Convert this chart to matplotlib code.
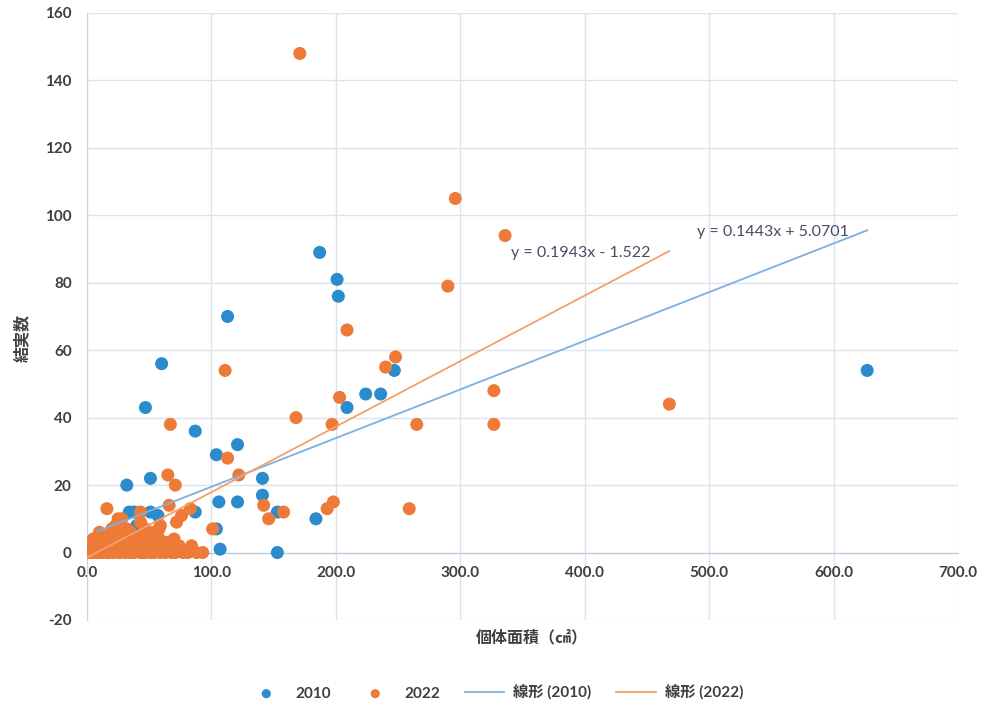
import matplotlib
matplotlib.use("Agg")
import matplotlib.pyplot as plt
import numpy as np

plt.rcParams['font.family'] = ['Lato', 'Noto Sans CJK JP', 'DejaVu Sans']

# ---- data ----
x2010 = [187, 201, 202, 113, 60, 627, 247, 47, 209, 224, 236, 87, 121, 104, 141, 141,
         51, 32, 106, 121, 153, 184, 104, 107, 153, 87,
         34, 38, 51, 57, 35, 63, 23, 8, 45, 60, 30, 50, 40, 55]
y2010 = [89, 81, 76, 70, 56, 54, 54, 43, 43, 47, 47, 36, 32, 29, 22, 17,
         22, 20, 15, 15, 12, 10, 7, 1, 0, 12,
         12, 12, 12, 11, 6, 3, 2, 0, 0, 1, 4, 4, 8, 3]

x2022 = [171, 296, 336, 290, 209, 248, 240, 111, 203, 168, 197, 265, 67, 327, 327, 468,
         113, 122, 65, 71, 142, 146, 158, 198, 193, 259, 66, 83, 76, 72, 101, 93, 84, 16,
         43, 43, 25, 23, 59, 54, 58, 28, 58,
         1, 3, 6, 9, 12, 16, 18, 21, 25, 27, 31, 35, 38, 43, 47, 51, 54, 59, 63, 68, 71, 77, 81, 88,
         2, 8, 14, 20, 27, 33, 40, 46, 53, 61, 66, 74,
         5, 11, 17, 24, 30, 37, 44, 50, 56, 64, 70,
         10, 18, 27, 35, 42, 49,
         20, 32, 47, 66]
y2022 = [148, 105, 94, 79, 66, 58, 55, 54, 46, 40, 38, 38, 38, 48, 38, 44,
         28, 23, 23, 20, 14, 10, 12, 15, 13, 13, 14, 13, 11, 9, 7, 0, 2, 13,
         12, 9, 10, 8, 8, 6, 4, 10, 7,
         0, 0, 0, 0, 0, 0, 0, 0, 0, 0, 0, 0, 0, 0, 0, 0, 0, 0, 0, 0, 0, 0, 0, 0,
         2, 2, 1, 2, 2, 1, 2, 2, 1, 2, 1, 2,
         4, 3, 4, 4, 3, 4, 4, 3, 4, 3, 4,
         6, 5, 6, 6, 5, 6,
         7, 7, 7, 3]

slope2010, intercept2010 = 0.1443, 5.0701
slope2022, intercept2022 = 0.1943, -1.522
eq2010 = "y = 0.1443x + 5.0701"
eq2022 = "y = 0.1943x - 1.522"

xticks = [0, 100, 200, 300, 400, 500, 600, 700]
yticks = [-20, 0, 20, 40, 60, 80, 100, 120, 140, 160]

c_blue = '#2a8ccc'
c_orange = '#ee7a38'
c_lblue = '#7cb0e0'
c_lorange = '#f5a06c'
txt = '#3f3f3f'

fig = plt.figure(figsize=(9.85, 7.14), dpi=100)
ax = fig.add_axes([0.0883, 0.1317, 0.8843, 0.8501])

ax.set_xlim(0, 700)
ax.set_ylim(-20, 160)
ax.set_xticks(xticks)
ax.set_yticks(yticks)
ax.set_xticklabels([f"{v:.1f}" for v in xticks])
ax.set_yticklabels([str(v) for v in yticks])
ax.grid(True, color='#dbe3ee', linewidth=1.0)
ax.set_axisbelow(True)
for s in ['top', 'right']:
    ax.spines[s].set_visible(False)
ax.spines['bottom'].set_position(('data', 0))
ax.spines['bottom'].set_color('#b9c7da')
ax.spines['left'].set_color('#c8d3e2')
ax.tick_params(axis='both', length=0, labelsize=11, colors=txt)
ax.tick_params(axis='x', pad=10)
ax.tick_params(axis='y', pad=11)
for lab in ax.get_xticklabels() + ax.get_yticklabels():
    lab.set_fontweight('bold')

ax.scatter(x2010, y2010, s=88, color=c_blue, edgecolors='none', zorder=3, label='2010')
ax.scatter(x2022, y2022, s=88, color=c_orange, edgecolors='none', zorder=3, label='2022')

xl1 = np.array([min(x2010), max(x2010)])
ax.plot(xl1, slope2010 * xl1 + intercept2010, color=c_lblue, linewidth=1.3, zorder=4, label='線形 (2010)')
xl2 = np.array([min(x2022), max(x2022)])
ax.plot(xl2, slope2022 * xl2 + intercept2022, color=c_lorange, linewidth=1.3, zorder=4, label='線形 (2022)')

ax.text(490, 95, eq2010, fontsize=11.5, color='#4a4a66', ha='left', va='center', zorder=5)
ax.text(341, 88.7, eq2022, fontsize=11.5, color='#4a4a66', ha='left', va='center', zorder=5)

fig.text(532 / 985, 1 - 637 / 714, '個体面積（㎠）', ha='center', va='center', fontsize=11.5,
         fontweight='bold', color=txt, family=['Noto Sans CJK JP', 'DejaVu Sans'])
fig.text(22 / 985, 1 - 338 / 714, '結実数', ha='center', va='center', rotation=90, fontsize=11.5,
         fontweight='bold', color=txt, family=['Noto Sans CJK JP', 'DejaVu Sans'])

leg = fig.legend(loc='center', bbox_to_anchor=(495 / 985, 1 - 693 / 714), ncol=4, frameon=False,
                 fontsize=11, handlelength=2.6, handletextpad=0.6, columnspacing=1.6,
                 markerscale=0.7)
for t in leg.get_texts():
    t.set_color(txt)
    t.set_fontweight('bold')

fig.savefig('out.png', dpi=100)
